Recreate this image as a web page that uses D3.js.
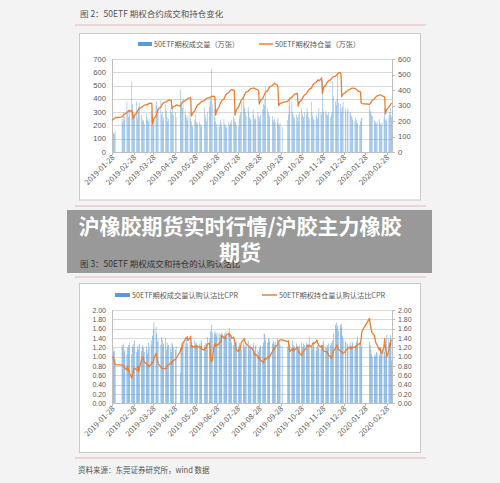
<!DOCTYPE html>
<html><head><meta charset="utf-8">
<script src="https://cdn.jsdelivr.net/npm/d3@7"></script>
<style>
body{margin:0;background:#f3f3f3;}
svg{display:block;font-family:"Noto Sans CJK SC","Noto Sans",sans-serif;}
.num{font-family:"Liberation Sans","DejaVu Sans",sans-serif;}
</style>
</head><body>
<svg id="c" width="500" height="483"></svg>
<script>
// ---- categories: trading days (weekdays minus exchange holidays) ----
const firstDay = "2019-01-28";
const lastDay = "2020-03-06";
const holidays = ["2019-02-04","2019-02-05","2019-02-06","2019-02-07","2019-02-08","2019-04-05",
  "2019-05-01","2019-05-02","2019-05-03","2019-06-07","2019-09-13",
  "2019-10-01","2019-10-02","2019-10-03","2019-10-04","2019-10-07",
  "2020-01-01","2020-01-24","2020-01-27","2020-01-28","2020-01-29","2020-01-30","2020-01-31"];
const tickLabels = ["2019-01-28","2019-02-28","2019-03-28","2019-04-28","2019-05-28","2019-06-28",
  "2019-07-28","2019-08-28","2019-09-28","2019-10-28","2019-11-28","2019-12-28","2020-01-28","2020-02-28"];

// ---- chart 1: 50ETF option volume (万张, left) and open interest (万张, right) ----
const volume = [
  155,150,140,135,
  160,250,220,300,240,270,380,290,260,310,280,530,360,300,240,
  290,380,260,300,340,370,280,250,230,240,210,290,260,240,230,250,310,280,260,200,260,
  350,380,300,340,390,280,300,240,260,360,310,260,230,250,330,300,280,350,280,300,260,
  470,380,350,330,400,320,280,260,240,270,300,250,230,200,190,240,280,220,230,210,
  230,210,190,200,330,280,250,230,300,340,380,410,625,360,320,260,230,210,190,
  210,190,240,220,190,250,210,200,180,190,230,200,220,210,240,270,250,220,230,200,190,250,280,
  300,380,410,350,330,300,270,340,300,260,250,240,320,280,250,240,260,300,270,260,230,280,
  320,360,400,350,490,330,300,280,260,270,240,230,250,220,230,260,210,200,220,190,
  240,280,350,410,380,300,280,260,250,280,260,230,280,300,330,290,270,260,
  300,280,330,300,260,250,380,300,270,250,240,280,260,250,290,330,300,280,540,320,300,
  310,290,280,270,300,260,280,300,530,420,380,350,400,580,370,360,330,300,340,380,330,300,
  310,330,300,290,270,260,240,230,260,240,220,210,200,230,250,260,
  350,320,300,280,270,240,230,220,210,230,250,220,210,200,220,260,330,240,250,230,
  270,300,330,280,260];
const openInterest = [
  205,209,213,217,
  221,226,232,238,242,246,252,258,265,270,262,268,255,212,224,
  236,250,262,270,276,282,288,292,295,298,302,306,308,304,310,314,316,312,180,198,215,
  232,248,262,275,290,300,308,314,318,322,325,328,330,334,336,332,278,286,292,298,304,
  296,305,312,318,325,330,334,338,342,346,350,352,232,242,252,266,278,288,296,304,
  312,318,322,326,332,338,342,346,348,350,353,356,358,360,358,354,238,256,272,
  292,306,316,324,332,342,352,362,370,376,384,390,396,400,402,400,396,238,256,272,290,302,312,
  324,336,350,362,372,380,386,392,398,402,406,410,412,413,411,408,405,400,396,310,322,334,
  346,356,366,376,386,396,404,412,420,428,434,440,444,440,430,420,300,306,312,318,
  326,334,340,346,352,358,364,370,374,377,380,296,310,322,334,344,352,360,
  368,376,384,392,398,404,412,420,428,436,442,450,456,462,466,460,470,478,376,398,418,
  432,442,448,454,460,466,472,478,482,486,490,494,498,504,510,512,500,356,366,374,382,388,
  394,400,404,408,410,412,412,410,408,404,400,395,390,386,316,312,
  308,312,318,326,334,342,348,354,358,362,366,368,368,366,362,358,352,246,262,276,
  288,296,304,310,316];

// ---- chart 2: put/call ratios (CPR) of volume (bars) and open interest (line) ----
const cprVolume = [
  1.15,1.18,1.10,1.12,
  0.95,1.25,1.20,1.28,1.10,1.15,1.05,1.20,1.25,1.18,1.30,1.05,1.22,1.28,1.20,
  1.35,1.10,1.18,1.25,1.15,1.28,1.12,1.20,1.25,1.18,1.10,1.22,1.15,1.05,1.30,1.20,1.35,1.25,1.45,1.58,1.74,
  1.64,1.50,1.32,1.38,1.25,1.42,1.36,1.20,1.28,1.40,1.15,1.30,1.22,1.25,1.18,1.10,1.30,1.26,1.20,1.15,1.22,
  0.64,1.20,1.28,1.32,1.25,1.30,1.22,1.35,1.28,1.20,1.32,1.25,1.30,1.18,1.22,1.35,1.28,1.30,1.25,1.20,
  1.28,1.22,1.35,1.30,1.25,1.20,1.30,1.28,1.42,1.35,1.40,1.55,1.68,1.52,1.48,1.55,1.50,1.45,1.52,
  1.50,1.40,1.48,1.46,1.52,1.38,1.50,1.45,1.55,1.42,1.48,1.61,1.45,1.38,1.30,1.25,1.35,1.20,1.28,1.32,1.22,1.30,1.25,
  1.20,1.15,1.30,1.25,1.18,1.22,1.28,1.35,1.20,1.15,1.25,1.18,1.22,1.30,1.12,1.20,1.25,1.15,1.10,1.20,1.18,1.25,
  1.22,1.30,1.50,1.48,1.35,1.30,1.38,1.40,1.32,1.28,1.35,1.30,1.25,1.32,1.40,1.36,1.28,1.30,1.25,1.22,
  1.22,1.30,1.25,1.28,1.20,1.35,1.25,1.18,1.22,1.28,1.20,1.15,1.22,1.25,1.30,1.18,1.22,1.28,
  1.25,1.30,1.22,1.18,1.25,1.43,1.20,1.15,1.22,1.28,1.18,1.12,1.20,1.25,1.18,1.22,1.15,1.20,1.25,1.30,1.35,
  1.22,1.18,1.25,1.20,1.28,1.25,1.30,1.22,1.35,1.50,1.68,1.73,1.60,1.67,1.55,1.68,1.62,1.70,1.45,1.38,1.32,1.30,
  1.28,1.22,1.30,1.25,1.20,1.32,1.28,1.22,1.25,1.30,1.35,1.43,1.28,1.32,1.20,1.25,
  1.32,1.25,1.15,1.05,1.00,1.02,1.05,1.00,1.10,1.08,1.05,1.00,1.12,1.05,1.15,1.25,1.10,1.02,1.20,1.46,
  1.40,1.30,1.46,1.20,0.92];
const cprOpenInterest = [
  1.00,0.98,0.94,0.88,
  0.83,0.82,0.82,0.81,0.80,0.76,0.71,0.80,0.74,0.68,0.64,0.54,0.60,0.68,0.72,
  0.76,0.71,0.74,0.79,0.68,0.75,0.93,0.97,1.00,0.94,0.88,0.85,0.84,0.80,0.82,0.78,0.84,0.88,0.86,0.89,0.96,
  1.07,1.00,0.92,0.85,0.78,0.76,0.74,0.75,0.75,0.74,0.76,0.80,0.82,0.82,0.86,0.88,0.85,0.90,0.92,0.94,0.96,
  1.11,1.18,1.14,1.22,1.29,1.36,1.40,1.38,1.43,1.35,1.40,1.44,1.21,1.24,1.20,1.22,1.18,1.20,1.24,1.21,
  1.21,1.18,1.22,1.16,1.14,1.20,1.18,1.22,1.26,1.29,1.20,0.93,0.89,0.92,1.25,1.29,1.22,1.26,1.24,
  1.28,1.30,1.32,1.32,1.46,1.40,1.42,1.38,1.45,1.47,1.50,1.44,1.47,1.45,1.39,1.42,1.36,1.30,1.20,1.14,1.11,1.16,1.14,
  1.20,1.30,1.36,1.39,1.34,1.30,1.27,1.24,1.22,1.20,1.18,1.20,1.14,1.10,1.06,1.03,1.05,1.00,0.96,0.99,0.95,0.92,
  0.89,0.86,0.92,0.96,0.94,0.98,1.00,0.97,1.00,1.11,1.14,1.18,1.16,1.21,1.25,1.28,1.32,1.34,1.36,1.36,
  1.32,1.34,1.18,1.11,1.16,1.14,1.18,1.12,1.15,1.18,1.21,1.14,1.10,1.07,1.03,1.06,1.10,1.12,
  1.14,1.18,1.21,1.25,1.22,1.25,1.21,1.24,1.28,1.30,1.28,1.32,1.36,1.30,1.27,1.24,1.21,1.24,1.18,1.15,1.12,
  1.11,1.10,1.11,1.06,1.03,1.00,0.96,1.00,1.05,1.12,1.18,1.21,1.25,1.22,1.16,1.12,1.10,1.11,1.08,1.07,1.11,1.14,
  1.16,1.18,1.20,1.16,1.21,1.18,1.20,1.21,1.19,1.22,1.24,1.25,1.29,1.27,1.40,1.54,
  1.82,1.70,1.62,1.55,1.50,1.46,1.38,1.30,1.28,1.25,1.14,1.20,1.12,1.08,1.07,1.22,1.39,1.20,1.10,1.00,
  1.14,1.28,1.22,1.36,1.34];

// ---- texts ----
const title1 = "图 2：50ETF 期权合约成交和持仓变化";
const title2 = "图 3：50ETF 期权成交和持仓的认购认沽比";
const legend1 = ["50ETF期权成交量（万张）", "50ETF期权持仓量（万张）"];
const legend2 = ["50ETF期权成交量认购认沽比CPR", "50ETF期权持仓量认购认沽比CPR"];
const sourceText = "资料来源：东莞证券研究所，wind 数据";
const overlayLines = ["沪橡胶期货实时行情/沪胶主力橡胶", "期货"];

// ---- build dates ----
const parse = d3.timeParse("%Y-%m-%d"), fmt = d3.timeFormat("%Y-%m-%d");
const days = [];
for (let d = parse(firstDay); d <= parse(lastDay); d = d3.timeDay.offset(d, 1)) {
  const wd = d.getDay();
  if (wd > 0 && wd < 6 && !holidays.includes(fmt(d))) days.push(d);
}

const svg = d3.select("#c");
const BLUE = "#5b9bd5", ORANGE = "#ed7d31", GRID = "#d9d9d9", TXT = "#595959";

svg.append("rect").attr("width", 500).attr("height", 483).attr("fill", "#f3f3f3");

function sep(y) {
  svg.append("line").attr("x1", 75).attr("x2", 426).attr("y1", y).attr("y2", y)
    .attr("stroke", "#ead6d6").attr("stroke-width", 2);
}
svg.append("text").attr("x", 80).attr("y", 17).attr("font-size", 8.5).attr("fill", "#555").text(title1);
sep(25);
sep(206);
svg.append("text").attr("x", 80).attr("y", 267).attr("font-size", 8.5).attr("fill", "#555").text(title2);
sep(277);
sep(458);
svg.append("text").attr("x", 78).attr("y", 473).attr("font-size", 7.5).attr("fill", "#555").text(sourceText);

const x = d3.scaleTime()
  .domain([d3.timeHour.offset(parse(firstDay), -12), d3.timeHour.offset(parse(lastDay), 12)])
  .range([112, 392]);

function chart(o) {
  svg.append("rect").attr("x", 79.5).attr("y", o.boxTop + 0.5).attr("width", 341).attr("height", o.boxH)
    .attr("fill", "#fff").attr("stroke", "#cacaca");
  // legend
  const lg = svg.append("g").attr("font-size", 7.2).attr("fill", TXT);
  lg.append("rect").attr("x", o.leg[0]).attr("y", o.legY - 2).attr("width", o.legW).attr("height", 4).attr("fill", BLUE);
  lg.append("text").attr("x", o.leg[0] + o.legW + 2).attr("y", o.legY + 2.5).text(o.legendText[0]);
  lg.append("line").attr("x1", o.leg[1]).attr("x2", o.leg[1] + o.legW).attr("y1", o.legY).attr("y2", o.legY)
    .attr("stroke", ORANGE).attr("stroke-width", 1.5);
  lg.append("text").attr("x", o.leg[1] + o.legW + 2).attr("y", o.legY + 2.5).text(o.legendText[1]);

  const yL = d3.scaleLinear().domain([0, o.lMax]).range([o.bottom, o.top]);
  const yR = d3.scaleLinear().domain([0, o.rMax]).range([o.bottom, o.top]);
  const g = svg.append("g");
  // gridlines
  g.selectAll(".gl").data(yL.ticks(o.nTicks)).join("line")
    .attr("x1", 112).attr("x2", 392).attr("y1", d => Math.round(yL(d)) + 0.5).attr("y2", d => Math.round(yL(d)) + 0.5)
    .attr("stroke", GRID);
  // bars
  g.selectAll(".b").data(days).join("rect")
    .attr("x", d => x(d) - o.bw / 2).attr("width", o.bw)
    .attr("y", (d, i) => yL(o.bars[i])).attr("height", (d, i) => o.bottom - yL(o.bars[i]))
    .attr("fill", BLUE).attr("opacity", o.bop);
  // axes lines
  g.append("line").attr("x1", 112.5).attr("x2", 112.5).attr("y1", o.top).attr("y2", o.bottom).attr("stroke", "#bfbfbf");
  g.append("line").attr("x1", 392.5).attr("x2", 392.5).attr("y1", o.top).attr("y2", o.bottom).attr("stroke", "#bfbfbf");
  g.append("line").attr("x1", 112).attr("x2", 393).attr("y1", Math.round(o.bottom) + 0.5).attr("y2", Math.round(o.bottom) + 0.5).attr("stroke", "#bfbfbf");
  // line
  g.append("path").datum(days).attr("fill", "none").attr("stroke", ORANGE).attr("stroke-width", 1.3)
    .attr("stroke-linejoin", "round")
    .attr("d", d3.line().x(d => x(d)).y((d, i) => yR(o.line[i])));
  // left axis labels
  g.selectAll(".yl").data(yL.ticks(o.nTicks)).join("text").attr("class", "num")
    .attr("x", 106).attr("y", d => yL(d) + 2.6).attr("text-anchor", "end")
    .attr("font-size", o.axFont).attr("fill", TXT).text(o.fmtL);
  // right axis ticks & labels
  g.selectAll(".rt").data(yR.ticks(o.nTicks)).join("line")
    .attr("x1", 392).attr("x2", 395).attr("y1", d => Math.round(yR(d)) + 0.5).attr("y2", d => Math.round(yR(d)) + 0.5)
    .attr("stroke", "#bfbfbf");
  g.selectAll(".yr").data(yR.ticks(o.nTicks)).join("text").attr("class", "num")
    .attr("x", 398).attr("y", d => yR(d) + 2.6)
    .attr("font-size", o.axFont).attr("fill", TXT).text(o.fmtR);
  // x ticks + labels
  const tks = tickLabels.map(parse);
  g.selectAll(".xt").data(tks).join("line")
    .attr("x1", d => Math.round(x(d)) + 0.5).attr("x2", d => Math.round(x(d)) + 0.5)
    .attr("y1", o.bottom).attr("y2", o.bottom + 3).attr("stroke", "#bfbfbf");
  g.selectAll(".xl").data(tks).join("text")
    .attr("transform", d => `translate(${x(d) + 3},${o.bottom + 6}) rotate(-45)`)
    .attr("text-anchor", "end").attr("font-size", 7.6).attr("fill", TXT)
    .text((d, i) => tickLabels[i]);
}

chart({
  boxTop: 33, boxH: 166.5, legY: 44, leg: [138, 259], legW: 14, legendText: legend1,
  top: 59, bottom: 152, lMax: 700, rMax: 600, nTicks: 7, axFont: 7.6,
  bars: volume, line: openInterest, bw: 0.6, bop: 0.7,
  fmtL: d3.format("d"), fmtR: d3.format("d")
});
chart({
  boxTop: 283, boxH: 169, legY: 295, leg: [115, 262], legW: 15, legendText: legend2,
  top: 310, bottom: 403.3, lMax: 2, rMax: 2, nTicks: 10, axFont: 7,
  bars: cprVolume, line: cprOpenInterest, bw: 0.6, bop: 0.85,
  fmtL: d3.format(".2f"), fmtR: d3.format(".2f")
});

// overlay banner
svg.append("rect").attr("x", 67).attr("y", 210).attr("width", 365).attr("height", 63)
  .attr("fill", "#000").attr("opacity", 0.37);
svg.selectAll(".ov").data(overlayLines).join("text")
  .attr("x", 240).attr("y", (d, i) => 234 + i * 26).attr("text-anchor", "middle")
  .attr("font-size", 21).attr("font-weight", "bold").attr("fill", "#fff").text(d => d);
</script>
</body></html>
